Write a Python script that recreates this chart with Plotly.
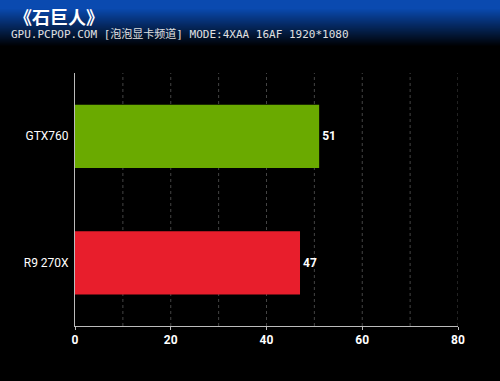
import plotly.graph_objects as go

categories = ["GTX760", "R9 270X"]
values = [51, 47]
colors = ["#6aaa00", "#e81e2c"]
tick_vals = [0, 20, 40, 60, 80]

W, H = 500, 381
L, R, T, B = 75, 42, 73, 55
ph = H - T - B
pw = W - L - R

fig = go.Figure()
fig.add_trace(go.Bar(
    y=categories, x=values, orientation="h",
    marker=dict(color=colors, line=dict(width=0)),
    width=0.5,
    text=[f"<b>{v}</b>" for v in values], textposition="outside",
    textfont=dict(color="white", size=12, family="Roboto"),
    cliponaxis=False,
))

shapes = []
# header gradient
top = (10, 74, 176)
for i in range(50):
    if i < 8:
        f = 1.0
    else:
        f = max(0.0, 1 - (i - 8) / 38)
    c = tuple(int(v * f) for v in top)
    y0 = (H - B - i - 1) / ph
    y1 = (H - B - i) / ph
    shapes.append(dict(type="rect", xref="paper", yref="paper", x0=-L / pw, x1=(W - L) / pw,
                       y0=y0, y1=y1, fillcolor=f"rgb{c}", line=dict(width=0), layer="below"))

fig.update_layout(
    width=W, height=H,
    margin=dict(l=L, r=R, t=T, b=B),
    paper_bgcolor="black", plot_bgcolor="black",
    shapes=shapes,
    showlegend=False,
    xaxis=dict(range=[0, 80], tickvals=tick_vals, ticktext=[f"<b>{v}</b>" for v in tick_vals],
               showgrid=False, zeroline=False,
               showline=True, linecolor="#bbbbbb", linewidth=1,
               ticks="outside", ticklen=3, tickcolor="#bbbbbb",
               tickfont=dict(color="white", size=12, family="Roboto"),
               fixedrange=True),
    yaxis=dict(range=[1.5, -0.5], autorange=False, showgrid=False, zeroline=False,
               showline=True, linecolor="#bbbbbb", linewidth=1,
               ticks="", tickfont=dict(color="white", size=12, family="Roboto"),
               ticksuffix=" "),
    annotations=[
        dict(text="<b>《石巨人》</b>", xref="paper", yref="paper",
             x=-L / pw + 12 / pw, y=(H - B - 1) / ph,
             xanchor="left", yanchor="top", showarrow=False,
             font=dict(color="white", size=18, family="Noto Sans CJK SC")),
        dict(text="GPU.PCPOP.COM [泡泡显卡频道] MODE:4XAA 16AF 1920*1080", xref="paper", yref="paper",
             x=-L / pw + 9 / pw, y=(H - B - 25) / ph,
             xanchor="left", yanchor="top", showarrow=False,
             font=dict(color="#e0e0e0", size=11, family="DejaVu Sans Mono, Noto Sans CJK SC")),
    ],
)
# dotted gridlines at every 10
for g in range(10, 81, 10):
    fig.add_shape(type="line", xref="x", yref="paper", x0=g, x1=g, y0=0, y1=1,
                  line=dict(color="#444444", width=1, dash="dot"), layer="below")

fig.write_html("out.html")
